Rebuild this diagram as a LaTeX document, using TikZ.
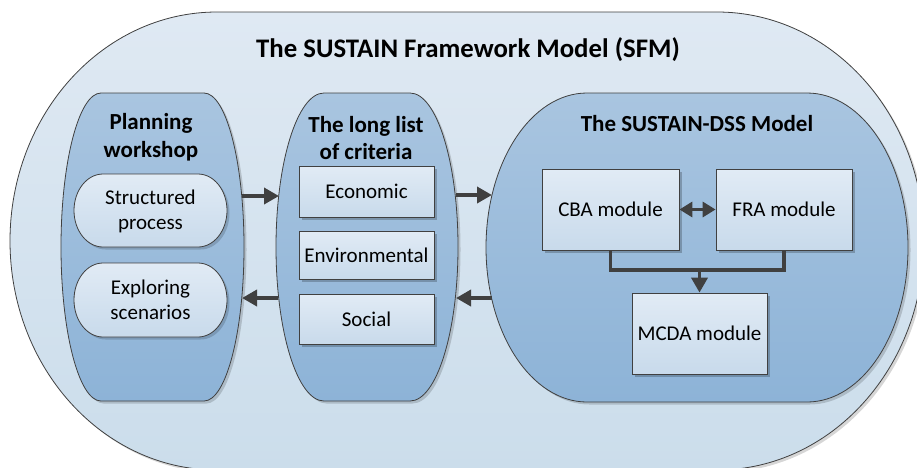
\documentclass[tikz,border=0pt]{standalone}
\usepackage{fontspec}
\setmainfont{Carlito}
\usetikzlibrary{arrows.meta,shadows}
\definecolor{outtop}{HTML}{DFE9F3}
\definecolor{outbot}{HTML}{CBDDEB}
\definecolor{midtop}{HTML}{A9C5E0}
\definecolor{midbot}{HTML}{8DB3D7}
\definecolor{boxtop}{HTML}{E1EBF5}
\definecolor{boxbot}{HTML}{C8DAEB}
\definecolor{edgec}{HTML}{404040}
\definecolor{arrc}{HTML}{404040}
% lozenge path: x1 y1 x2 y2 rx ry
\newcommand\lozpath[6]{(#1+#5,#2) -- (#3-#5,#2)
  arc[start angle=-90,end angle=0,x radius=#5,y radius=#6] -- (#3,#4-#6)
  arc[start angle=0,end angle=90,x radius=#5,y radius=#6] -- (#1+#5,#4)
  arc[start angle=90,end angle=180,x radius=#5,y radius=#6] -- (#1,#2+#6)
  arc[start angle=180,end angle=270,x radius=#5,y radius=#6] -- cycle}
\newcommand\titlefont{\fontsize{26.8}{30}\selectfont\bfseries}
\newcommand\headfont{\fontsize{23}{27.5}\selectfont\bfseries}
\newcommand\normtext{\fontsize{21}{25}\selectfont}
\tikzset{
  edge/.style={draw=edgec, line width=0.8pt},
  outershape/.style={edge, top color=outtop, bottom color=outbot},
  bigshape/.style={edge, top color=midtop, bottom color=midbot},
  pillshape/.style={edge, top color=boxtop, bottom color=boxbot},
  shadowfill/.style={fill=black, opacity=0.16},
  boxnode/.style={rectangle, draw=edgec, line width=0.8pt, top color=boxtop,
    bottom color=boxbot, inner sep=0pt, font=\normtext,
    drop shadow={shadow xshift=2.5pt, shadow yshift=-2.5pt, opacity=0.22, fill=black}},
  txt/.style={inner sep=0pt, align=center},
  arr/.style={draw=arrc, line width=3.6pt, -{Triangle[length=15pt,width=16pt]}},
  dblarr/.style={draw=arrc, line width=3.6pt, {Triangle[length=13pt,width=15pt]}-{Triangle[length=13pt,width=15pt]}},
  link/.style={draw=arrc, line width=3.2pt},
}
\begin{document}
\begin{tikzpicture}[x=1pt,y=-1pt]
\useasboundingbox (0,0) rectangle (917,467);
\clip (0,0) rectangle (917,467);
\fill[white] (0,0) rectangle (917,467);
% outer shape
\fill[shadowfill, shift={(2.5,2.5)}] \lozpath{10}{12}{924}{470}{207}{229};
\path[outershape] \lozpath{10}{12}{924}{470}{207}{229};
% big inner shapes
\fill[shadowfill, shift={(2.5,2.5)}] \lozpath{61}{93}{244}{401}{40}{154};
\path[bigshape] \lozpath{61}{93}{244}{401}{40}{154};
\fill[shadowfill, shift={(2.5,2.5)}] \lozpath{276}{93}{458}{401}{48}{154};
\path[bigshape] \lozpath{276}{93}{458}{401}{48}{154};
\fill[shadowfill, shift={(2.5,2.5)}] \lozpath{486}{93}{908}{402}{101}{154.5};
\path[bigshape] \lozpath{486}{93}{908}{402}{101}{154.5};
% pills
\fill[shadowfill, shift={(2.5,2.5)}] \lozpath{74}{174}{227}{247}{29}{36.5};
\path[pillshape] \lozpath{74}{174}{227}{247}{29}{36.5};
\fill[shadowfill, shift={(2.5,2.5)}] \lozpath{74}{263}{227}{337}{29}{37};
\path[pillshape] \lozpath{74}{263}{227}{337}{29}{37};
% texts
\node[txt, font=\titlefont] (title) at (468,50) {The SUSTAIN Framework Model (SFM)};
\node[txt, font=\headfont] (pwtitle) at (151,137) {Planning\\workshop};
\node[txt, font=\headfont] (lctitle) at (366,138) {The long list\\of criteria};
\node[txt, font=\headfont] (dsstitle) at (697,124) {The SUSTAIN-DSS Model};
\node[txt, font=\normtext] (sp) at (150.5,211) {Structured\\process};
\node[txt, font=\normtext] (es) at (150.5,300) {Exploring\\scenarios};
% criteria boxes
\node[boxnode, minimum width=135pt, minimum height=51pt] (eco) at (366.5,191.5) {Economic};
\node[boxnode, minimum width=135pt, minimum height=48pt] (env) at (366.5,255) {Environmental};
\node[boxnode, minimum width=135pt, minimum height=50pt] (soc) at (366.5,319) {Social};
% DSS boxes
\node[boxnode, minimum width=137pt, minimum height=81pt] (cba) at (610.5,209.5) {CBA module};
\node[boxnode, minimum width=136pt, minimum height=81pt] (fra) at (784,209.5) {FRA module};
\node[boxnode, minimum width=135pt, minimum height=81pt] (mcda) at (699.5,333.5) {MCDA module};
% connector coordinates
\coordinate (pwout) at (242,196);
\coordinate (lcin) at (279,196);
\coordinate (lcout2) at (278,298);
\coordinate (pwin2) at (242,298);
\coordinate (lcout) at (456,195);
\coordinate (dssin) at (492,195);
\coordinate (dssout2) at (492,298);
\coordinate (lcin2) at (456,298);
\coordinate (join) at (699.5,270);
% arrows
\draw[arr] (pwout) -- (lcin);
\draw[arr] (lcout2) -- (pwin2);
\draw[arr] (lcout) -- (dssin);
\draw[arr] (dssout2) -- (lcin2);
\draw[dblarr] (cba.east) -- (fra.west);
\draw[link] (cba.south) |- (join) -| (fra.south);
\draw[arr] (join) -- (mcda.north);
\end{tikzpicture}
\end{document}
